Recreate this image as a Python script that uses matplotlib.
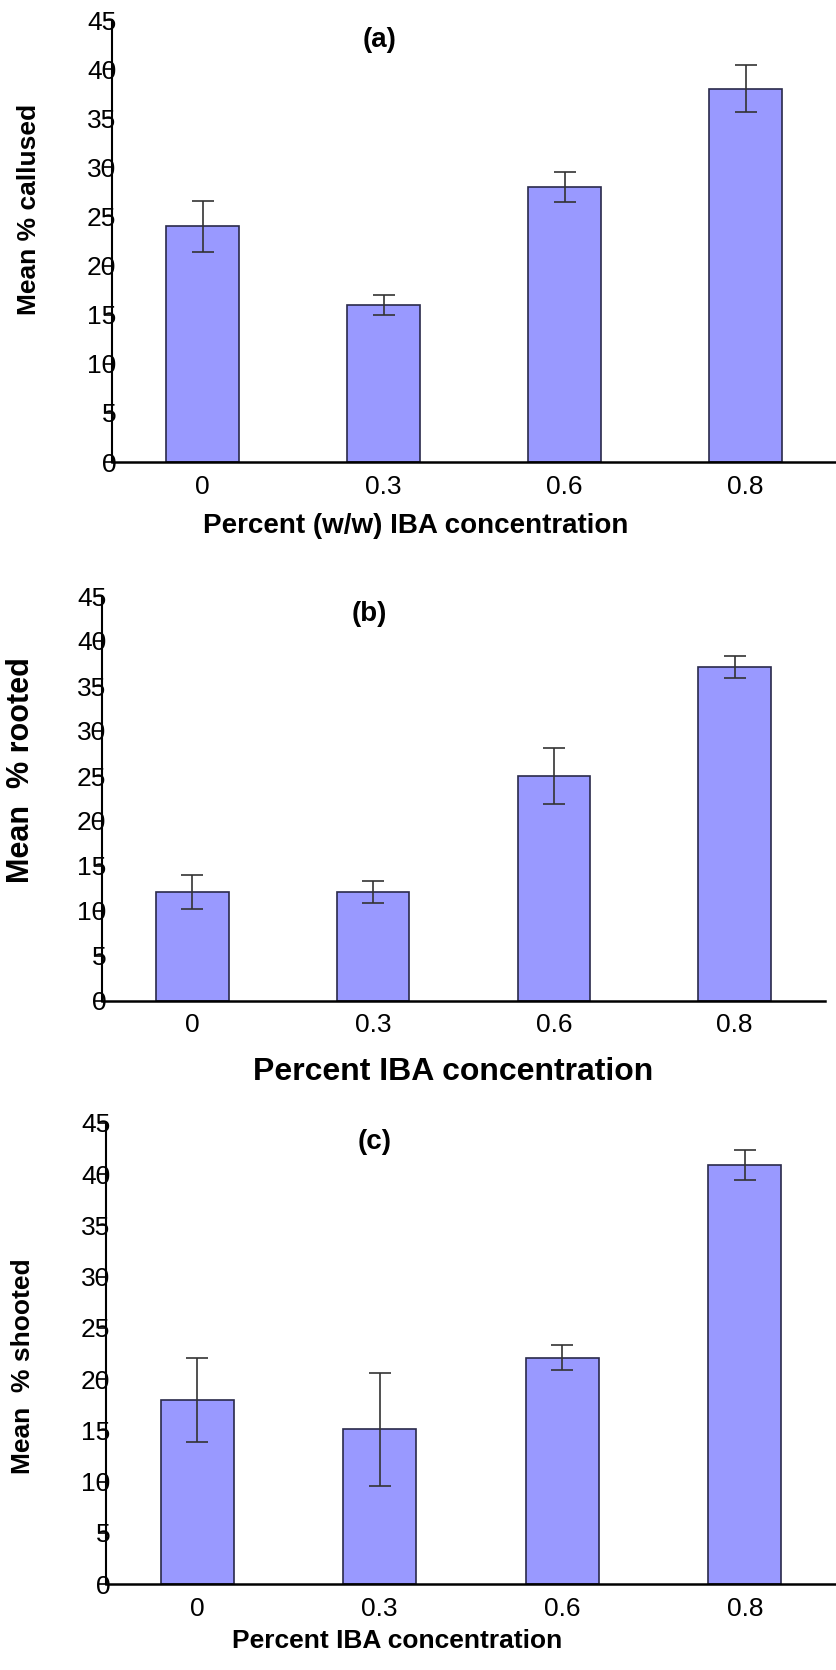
import numpy as np
import matplotlib.pyplot as plt

plt.rcParams['font.family'] = ['Liberation Sans', 'DejaVu Sans']

# Data
concentrations = ['0', '0.3', '0.6', '0.8']

callused_mean = [24.0, 16.0, 28.0, 38.0]
callused_err = [2.6, 1.0, 1.5, 2.4]

rooted_mean = [12.1, 12.1, 25.0, 37.1]
rooted_err = [1.9, 1.2, 3.1, 1.2]

shooted_mean = [18.0, 15.1, 22.1, 40.9]
shooted_err = [4.1, 5.5, 1.2, 1.5]

W, H = 836, 1670
fig = plt.figure(figsize=(W / 100, H / 100), dpi=100)


def px_rect(left, top, right, bottom):
    # pixel box -> figure fraction rect
    return [left / W, 1 - bottom / H, (right - left) / W, (bottom - top) / H]


def draw_panel(rect, means, errs, tag, tag_xy):
    ax = fig.add_axes(rect)
    x = np.arange(len(concentrations))
    ax.bar(x, means, width=0.4, color='#9999ff', edgecolor='#2a2a4a',
           linewidth=1.2, zorder=2)
    ax.errorbar(x, means, yerr=errs, fmt='none', ecolor='#333333',
                elinewidth=1.2, capsize=8, capthick=1.2, zorder=3)
    ax.set_xlim(-0.5, 3.5)
    ax.set_ylim(0, 45)
    ax.set_yticks(np.arange(0, 46, 5))
    ax.set_xticks(x)
    ax.set_xticklabels(concentrations)
    ax.spines['top'].set_visible(False)
    ax.spines['right'].set_visible(False)
    ax.spines['left'].set_linewidth(1.5)
    ax.spines['bottom'].set_linewidth(1.8)
    ax.tick_params(axis='y', length=6, width=1.2, pad=-9, labelsize=19)
    ax.tick_params(axis='x', length=0, pad=9, labelsize=19)
    fig.text(tag_xy[0] / W, 1 - tag_xy[1] / H, tag, fontsize=20,
             fontweight='bold', ha='center', va='center')
    return ax


# (a) callused
draw_panel(px_rect(112, 20, 836, 462), callused_mean, callused_err, '(a)', (380, 40))
fig.text(29 / W, 1 - 209 / H, 'Mean % callused', rotation=90, fontsize=19,
         fontweight='bold', ha='center', va='center')
fig.text(203 / W, 1 - 526 / H, 'Percent (w/w) IBA concentration', fontsize=20,
         fontweight='bold', ha='left', va='center')

# (b) rooted
draw_panel(px_rect(102, 596, 825, 1001), rooted_mean, rooted_err, '(b)', (369, 614))
fig.text(21 / W, 1 - 770 / H, 'Mean  % rooted', rotation=90, fontsize=22,
         fontweight='bold', ha='center', va='center')
fig.text(253 / W, 1 - 1072 / H, 'Percent IBA concentration', fontsize=23,
         fontweight='bold', ha='left', va='center')

# (c) shooted
draw_panel(px_rect(106, 1123, 836, 1584), shooted_mean, shooted_err, '(c)', (375, 1142))
fig.text(23 / W, 1 - 1366 / H, 'Mean  % shooted', rotation=90, fontsize=19,
         fontweight='bold', ha='center', va='center')
fig.text(232 / W, 1 - 1641 / H, 'Percent IBA concentration', fontsize=19,
         fontweight='bold', ha='left', va='center')

fig.savefig('out.png', dpi=100)
